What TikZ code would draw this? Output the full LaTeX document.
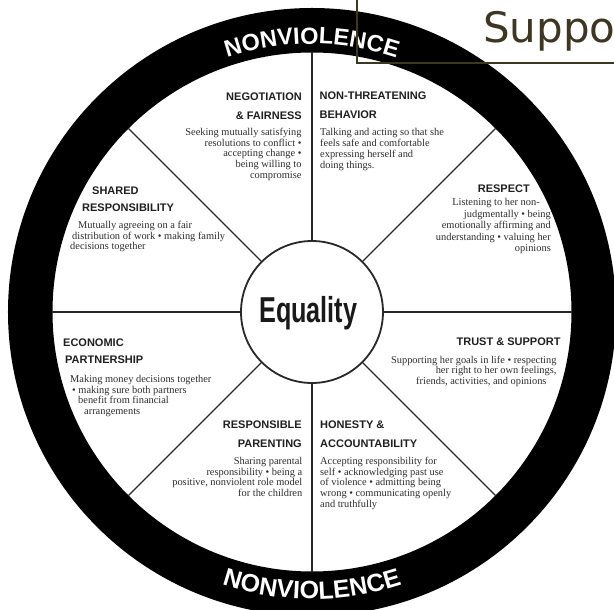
\documentclass[tikz,border=0pt]{standalone}
\usepackage{fontspec}
\setmainfont{Liberation Serif}
\newfontfamily\headfont{Liberation Sans}
\newfontfamily\bodyfont{Liberation Serif}
\newfontfamily\slidefont{DejaVu Sans}
\usetikzlibrary{decorations.text}
\definecolor{slideink}{RGB}{60,54,34}
\definecolor{bodyink}{RGB}{45,45,45}
\definecolor{spokeink}{RGB}{40,40,40}
\begin{document}
\begin{tikzpicture}[x=1pt,y=1pt,
  head/.style={font=\headfont\bfseries\fontsize{11}{#1}\selectfont, inner sep=0pt, text=black!88},
  head/.default=18.8,
  body/.style={font=\bodyfont\fontsize{10.4}{#1}\selectfont, inner sep=0pt, text=bodyink},
  body/.default=10.7,
  spoke/.style={draw=spokeink, line width=1.4pt},
  ringtext/.style={decorate, decoration={text along path, text align=center, text color=white,
    text={|\headfont\bfseries\fontsize{#1}{#1}\selectfont|NONVIOLENCE}}}]
\useasboundingbox (-312,312) rectangle (302,-298);
\clip (-312,312) rectangle (302,-298);
% ring
\fill[black, even odd rule] (0,0) circle[radius=304] (0,0) circle[radius=259.5];
% hub
\node[circle, minimum size=142, inner sep=0pt, draw=spokeink, line width=1.8pt, fill=white] (hub) at (0,0) {};
\foreach \a in {0,45,...,315}
  \draw[spoke] (hub.\a) -- (\a:260);
\node[font=\headfont\bfseries\fontsize{36}{36}\selectfont, inner sep=0pt, anchor=base, text=black!90] (eq) at (-3.7,-11) {\scalebox{0.70}[1]{Equality}};
% ring texts
\path[ringtext=23.5] (165:268) arc[start angle=165, end angle=15, radius=268];
\path[ringtext=25] (195:287) arc[start angle=195, end angle=345, radius=287];
% negotiation
\node[head, anchor=base east, align=right] (negh) at (-10,192.5) {NEGOTIATION\\\& FAIRNESS};
\node[body, anchor=base east, align=right] (negb) at (-10.3,133.7) {Seeking mutually satisfying\\resolutions to conflict •\\accepting change •\\being willing to\\compromise};
% non-threatening
\node[head, anchor=base west, align=left] (nonh) at (7.5,193.2) {NON-THREATENING\\BEHAVIOR};
\node[body, anchor=base west, align=left] (nonb) at (8,143.9) {Talking and acting so that she\\feels safe and comfortable\\expressing herself and\\doing things.};
% respect
\node[head, anchor=base east] (resh) at (218,119) {RESPECT};
\node[body=11.5, anchor=base east, align=right] (resb) at (239,60) {Listening to her non-\hspace*{11pt}\\judgmentally • being\hspace*{6pt}\\emotionally affirming and\hspace*{6pt}\\understanding • valuing her\hspace*{1pt}\\opinions};
% shared
\node[head=17, anchor=base west, align=left] (shah) at (-230,100) {\hspace*{10pt}SHARED\\RESPONSIBILITY};
\node[body, anchor=base west, align=left] (shab) at (-242,62.1) {\hspace*{8pt}Mutually agreeing on a fair\\\hspace*{2pt}distribution of work • making family\\decisions together};
% economic
\node[head=17, anchor=base west, align=left] (ecoh) at (-249,-52) {ECONOMIC\\\hspace*{2pt}PARTNERSHIP};
\node[body, anchor=base west, align=left] (ecob) at (-242,-102.6) {Making money decisions together\\\hspace*{2pt}• making sure both partners\\\hspace*{8pt}benefit from financial\\\hspace*{14pt}arrangements};
% trust
\node[head, anchor=base east] (truh) at (248.7,-33.7) {TRUST \& SUPPORT};
\node[body, anchor=base east, align=right] (trub) at (244.7,-72.6) {Supporting her goals in life • respecting\\her right to her own feelings,\hspace*{4pt}\\friends, activities, and opinions\hspace*{10pt}};
% parenting
\node[head, anchor=base east, align=right] (parh) at (-10,-135.8) {RESPONSIBLE\\PARENTING};
\node[body, anchor=base east, align=right] (parb) at (-9.5,-184.6) {Sharing parental\\responsibility • being a\\positive, nonviolent role model\\for the children};
% honesty
\node[head, anchor=base west, align=left] (honh) at (8,-135.8) {HONESTY \&\\ACCOUNTABILITY};
\node[body, anchor=base west, align=left] (honb) at (8,-195.3) {Accepting responsibility for\\self • acknowledging past use\\of violence • admitting being\\wrong • communicating openly\\and truthfully};
% slide title box
\coordinate (boxtop) at (45,320);
\coordinate (boxright) at (310,249);
\draw[slideink, line width=1.2pt] (boxtop) |- (boxright);
\node[font=\slidefont\fontsize{42}{42}\selectfont, text=slideink, anchor=base west, inner sep=0pt] (title) at (171,269) {Suppo};
\end{tikzpicture}
\end{document}
